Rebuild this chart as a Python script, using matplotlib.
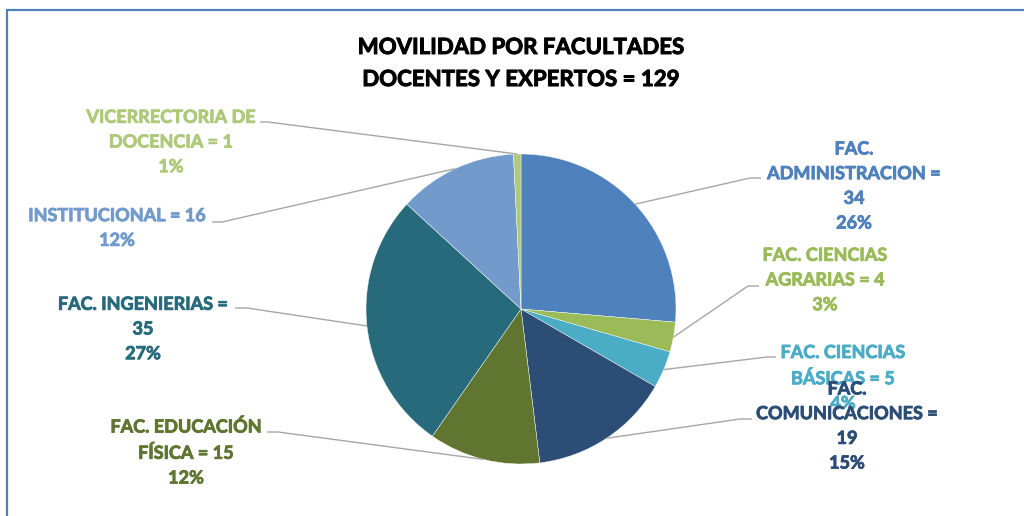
import numpy as np
import matplotlib.pyplot as plt
import matplotlib.patheffects as pe
from matplotlib.lines import Line2D

# datos de movilidad por facultad
categorias = ['FAC.\nADMINISTRACION', 'FAC. CIENCIAS\nAGRARIAS', 'FAC. CIENCIAS\nBÁSICAS',
              'FAC.\nCOMUNICACIONES', 'FAC. EDUCACIÓN\nFÍSICA', 'FAC. INGENIERIAS',
              'INSTITUCIONAL', 'VICERRECTORIA DE\nDOCENCIA']
valores = [34, 4, 5, 19, 15, 35, 16, 1]
separador = [' =\n', ' = ', ' = ', ' =\n', ' = ', ' =\n', ' = ', ' = ']
colores = ['#4F81BD', '#9BBB59', '#4BACC6', '#2C4D75',
           '#5F7530', '#276A7C', '#729ACA', '#AFC97A']
total = sum(valores)

# posiciones de etiquetas y codos de las lineas guia (en pixeles, y hacia abajo)
pos_etiqueta = [(854, 186), (825, 280), (843, 378), (847, 426),
                (186, 452), (143, 329), (117, 228), (171, 142)]
codo = [(750, 178), (748, 286), (767, 357), (740, 419),
        (278, 432), (247, 308), (222, 222), (268, 122)]
fin = [(761, 178), (759, 286), (776, 357), (752, 419),
       (267, 432), (235, 308), (212, 222), (260, 122)]

W, H = 1024, 516
fig = plt.figure(figsize=(W / 100, H / 100), dpi=100)
ax = fig.add_axes([0, 0, 1, 1])

centro = (521, H - 309)
radio = 155
wedges, _ = ax.pie(valores, colors=colores, startangle=90, counterclock=False,
                   center=centro, radius=radio,
                   wedgeprops=dict(edgecolor='white', linewidth=0.3))
ax.set_xlim(0, W)
ax.set_ylim(0, H)
ax.set_aspect('equal')
ax.axis('off')

fuente = ['Lato', 'DejaVu Sans']

for i, w in enumerate(wedges):
    ang = np.deg2rad((w.theta1 + w.theta2) / 2)
    x0 = centro[0] + radio * np.cos(ang)
    y0 = centro[1] + radio * np.sin(ang)
    xs = [x0, codo[i][0], fin[i][0]]
    ys = [y0, H - codo[i][1], H - fin[i][1]]
    ax.plot(xs, ys, color='#A6A6A6', lw=1.0, solid_capstyle='butt', zorder=1)

    pct = round(valores[i] / total * 100)
    texto = f'{categorias[i]}{separador[i]}{valores[i]}\n{pct}%'
    ax.text(pos_etiqueta[i][0], H - pos_etiqueta[i][1], texto,
            ha='center', va='center', multialignment='center',
            color=colores[i], fontsize=13, fontweight='bold',
            family=fuente, linespacing=1.55, zorder=3,
            path_effects=[pe.withStroke(linewidth=0.6, foreground=colores[i])])

ax.text(521, H - 63.5, 'MOVILIDAD POR FACULTADES\nDOCENTES Y EXPERTOS = 129',
        ha='center', va='center', multialignment='center', color='black',
        fontsize=16, fontweight='bold', family=fuente, linespacing=1.65,
        path_effects=[pe.withStroke(linewidth=0.7, foreground='black')])

# marco del grafico
fig.add_artist(Line2D([6.5 / W, 6.5 / W], [0, 1 - 10 / H], transform=fig.transFigure,
                      color='#4F81BD', lw=1.6, solid_capstyle='butt'))
fig.add_artist(Line2D([6 / W, 1.01], [1 - 10 / H, 1 - 10 / H], transform=fig.transFigure,
                      color='#4F81BD', lw=1.6, solid_capstyle='butt'))

fig.savefig('out.png', dpi=100)
